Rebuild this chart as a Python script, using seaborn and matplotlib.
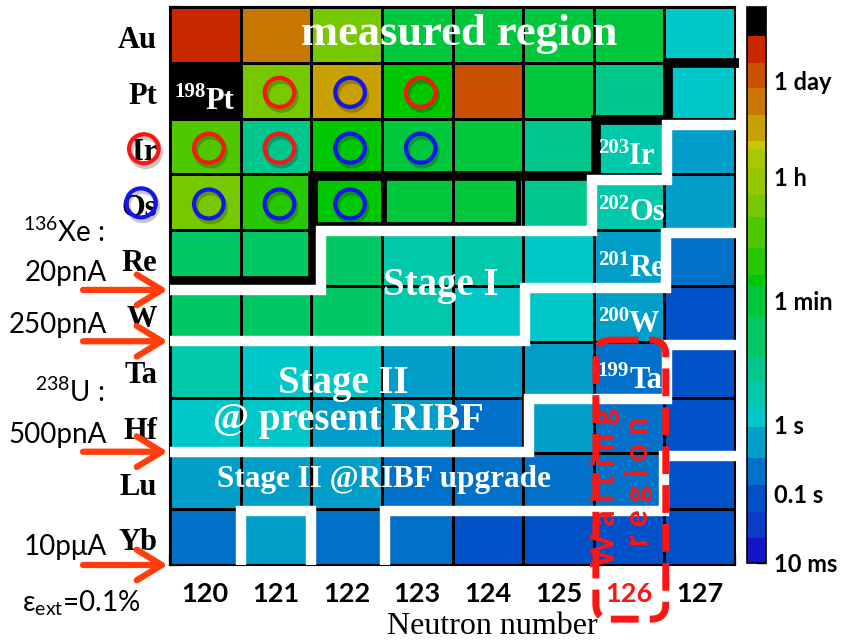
import matplotlib
matplotlib.use("Agg")
import numpy as np
import pandas as pd
import seaborn as sns
import matplotlib.pyplot as plt
from matplotlib.colors import ListedColormap, BoundaryNorm
from matplotlib.patches import Ellipse, FancyBboxPatch
from matplotlib.ticker import FixedLocator
from matplotlib.transforms import blended_transform_factory

sns.set_theme(style="white")
plt.rcParams["font.family"] = ["Lato", "DejaVu Sans"]
plt.rcParams["mathtext.fontset"] = "custom"
plt.rcParams["mathtext.rm"] = "Lato"
plt.rcParams["mathtext.it"] = "Lato:italic"
plt.rcParams["mathtext.bf"] = "Lato:bold"

# ---------------------------------------------------------------- data
neutrons = [120, 121, 122, 123, 124, 125, 126, 127]
elements = ["Au", "Pt", "Ir", "Os", "Re", "W", "Ta", "Hf", "Lu", "Yb"]
protons = [79, 78, 77, 76, 75, 74, 73, 72, 71, 70]

# half-lives in seconds; stable nuclei are placed above the top of the scale
half_life_Au = [2.7e5, 4.0e4, 1.6e3, 60, 55, 40, 45, 1.2]
half_life_Pt = [1e7, 1.8e3, 2.0e4, 120, 1.0e5, 40, 6.0, 1.2]
half_life_Ir = [500, 6.0, 120, 45, 40, 6.0, 3.0, 0.5]
half_life_Os = [1.5e3, 170, 125, 50, 50, 6.0, 2.5, 0.5]
half_life_Re = [15, 15, 15, 3.0, 3.0, 1.2, 0.5, 0.2]
half_life_W = [15, 15, 15, 3.0, 1.2, 1.2, 0.5, 0.08]
half_life_Ta = [3.0, 1.2, 1.2, 0.5, 0.5, 0.5, 0.2, 0.08]
half_life_Hf = [1.2, 1.2, 0.5, 0.4, 0.2, 0.5, 0.2, 0.08]
half_life_Lu = [0.5, 0.5, 0.5, 0.2, 0.2, 0.2, 0.15, 0.08]
half_life_Yb = [0.2, 0.5, 0.2, 0.2, 0.08, 0.08, 0.08, 0.08]

# discrete palette: band edges in log10(seconds) and band colours
band_edges = [-2.0, -1.64, -1.26, -0.88, -0.49, -0.05, 0.25, 0.60, 0.96, 1.54,
              1.99, 2.14, 2.53, 2.98, 3.30, 3.68, 3.96, 4.07, 4.45, 4.83,
              5.19, 5.58, 6.0]
band_colors = ["#1414c8", "#0a3cc8", "#0050c8", "#0070c8", "#009ec8", "#00c8c8",
               "#00c8aa", "#00c88c", "#00c864", "#00c83c", "#00c800", "#28c800",
               "#50c800", "#78c800", "#96c800", "#aac800", "#c8c800", "#c8a000",
               "#c87800", "#c85000", "#c82800", "#000000"]

cbar_tick_seconds = [0.01, 0.1, 1, 60, 3600, 86400]
cbar_tick_labels = ["10 ms", "0.1 s", "1 s", "1 min", "1 h", "1 day"]

# nuclei marked with rings
red_marked = [("Pt", 121), ("Pt", 123), ("Ir", 120), ("Ir", 121)]
blue_marked = [("Pt", 122), ("Ir", 122), ("Ir", 123), ("Os", 120), ("Os", 121), ("Os", 122)]
# nuclei named inside their cell
named = [("Pt", 120), ("Ir", 126), ("Os", 126), ("Re", 126), ("W", 126), ("Ta", 126)]

# region boundaries, in (column edge, row edge) units
measured_edge = [(0, 4.91), (2.02, 4.91), (2.02, 3.03), (6.03, 3.03), (6.03, 2.03),
                 (7.05, 2.03), (7.05, 1.0), (8.05, 1.0)]
measured_inner = [[(2.02, 3.88), (4.93, 3.88), (4.93, 3.03)], [(3.03, 3.03), (3.03, 3.88)]]
reach_edges = [
    [(0, 5.07), (2.14, 5.07), (2.14, 4.02), (5.98, 4.02), (5.98, 3.1), (7.04, 3.1),
     (7.04, 2.11), (8.06, 2.11)],
    [(0, 5.99), (5.03, 5.99), (5.03, 5.04), (7.02, 5.04), (7.02, 4.05), (8.06, 4.05)],
    [(0, 7.97), (5.08, 7.97), (5.08, 7.03), (7.04, 7.03), (7.04, 6.06), (8.06, 6.06)],
    [(1.0, 10), (1.0, 9.03), (2.0, 9.03), (2.0, 10)],
    [(3.04, 10), (3.04, 9.03), (7.0, 9.03), (7.0, 8.05), (8.06, 8.05)],
]
beam_rows = [5.07, 5.99, 7.97, 10.0]

# ---------------------------------------------------------------- figure
W_PX, H_PX = 848, 643
fig = plt.figure(figsize=(W_PX / 100, H_PX / 100), dpi=100)
fig.patch.set_facecolor("white")
ax = fig.add_axes([170 / W_PX, 1 - 565 / H_PX, 565 / W_PX, 558 / H_PX])
cax = fig.add_axes([747 / W_PX, 1 - 563 / H_PX, 19 / W_PX, 556 / H_PX])

half_lives = [half_life_Au, half_life_Pt, half_life_Ir, half_life_Os, half_life_Re,
              half_life_W, half_life_Ta, half_life_Hf, half_life_Lu, half_life_Yb]
table = pd.DataFrame(np.log10(np.array(half_lives, dtype=float)),
                     index=elements, columns=neutrons)

cmap = ListedColormap(band_colors)
cmap.set_over("black")
norm = BoundaryNorm(band_edges, cmap.N)

sns.heatmap(table, ax=ax, cbar_ax=cax, cmap=cmap, norm=norm, linewidths=2,
            linecolor="black", xticklabels=False, yticklabels=False,
            cbar_kws={"spacing": "proportional"})

for s in ax.spines.values():
    s.set_visible(True)
    s.set_color("black")
    s.set_linewidth(1.5)

# ROOT-like inward ticks
ax.set_xticks(np.arange(0, 8.01, 1.0))
ax.xaxis.set_minor_locator(FixedLocator(np.arange(0, 8.01, 0.2)))
ax.set_yticks(np.arange(0, 10.01, 1.0))
ax.yaxis.set_minor_locator(FixedLocator(np.arange(0, 10.01, 0.2)))
ax.tick_params(axis="both", which="major", direction="in", length=8, width=1.6,
               bottom=True, left=True, top=False, right=False,
               labelbottom=False, labelleft=False, color="black")
ax.tick_params(axis="both", which="minor", direction="in", length=4.5, width=1.3,
               bottom=True, left=True, top=False, right=False, color="black")

# colour bar
cb = ax.collections[0].colorbar
cb.outline.set_linewidth(1.2)
cb.outline.set_edgecolor("black")
cb.set_ticks(np.log10(cbar_tick_seconds))
cb.set_ticklabels(cbar_tick_labels)
minor_cb = [np.log10(k * 10.0 ** n) for n in range(-2, 6) for k in range(2, 10)]
cax.yaxis.set_minor_locator(FixedLocator([m for m in minor_cb if m < 6]))
cax.tick_params(axis="y", which="major", direction="in", length=7, width=1.0,
                right=True, left=False, labelright=True, labelleft=False, pad=6,
                labelsize=17, color="black")
cax.tick_params(axis="y", which="minor", direction="in", length=4, width=0.8,
                right=True, left=False, color="black")
for t in cax.get_yticklabels():
    t.set_fontweight("bold")
    t.set_color("black")

trans_x = blended_transform_factory(ax.transData, ax.transAxes)
trans_y = blended_transform_factory(ax.transAxes, ax.transData)
serif = "Liberation Serif"
red = "#ff1414"
blue = "#1414f0"

# axis labels
for i, n in enumerate(neutrons):
    ax.text(i + 0.5, -0.066, str(n), transform=trans_x, ha="center", va="baseline",
            fontsize=19.5, fontweight="bold", color=red if n == 126 else "black",
            clip_on=False)
for j, el in enumerate(elements):
    ax.text(-0.023, j + 0.74, el, transform=trans_y, ha="right", va="baseline",
            fontsize=22, fontweight="bold", family=serif, color="black", clip_on=False)
fig.text(492 / W_PX, 1 - 634 / H_PX, "Neutron number", ha="center", va="baseline",
         family=serif, fontsize=23, color="black")

# region boundaries
ax.plot(*zip(*measured_edge), color="black", lw=7, solid_joinstyle="miter",
        solid_capstyle="butt", zorder=4, clip_on=False)
for seg in measured_inner:
    ax.plot(*zip(*seg), color="black", lw=3.5, solid_joinstyle="miter",
            solid_capstyle="butt", zorder=4)
for seg in reach_edges:
    ax.plot(*zip(*seg), color="white", lw=7.5, solid_joinstyle="miter",
            solid_capstyle="butt", zorder=5, clip_on=False)


def ring(x, y, color, clip=True):
    rx, ry = 2 * 14.8 / 70.625, 2 * 14.5 / 55.8
    sh = Ellipse((x + 0.025, y + 0.06), rx, ry, fill=False, ec=(0, 0, 0, 0.22),
                 lw=3.6, zorder=6, clip_on=clip)
    rg = Ellipse((x, y), rx, ry, fill=False, ec=color, lw=3.0, zorder=7, clip_on=clip)
    ax.add_patch(sh)
    ax.add_patch(rg)


for el, n in red_marked:
    ring(neutrons.index(n) + 0.55, elements.index(el) + 0.53, red)
for el, n in blue_marked:
    ring(neutrons.index(n) + 0.55, elements.index(el) + 0.53, blue)
ring(-0.37, elements.index("Ir") + 0.54, red, clip=False)
ring(-0.41, elements.index("Os") + 0.51, blue, clip=False)

# nuclide names inside cells
for el, n in named:
    c, r = neutrons.index(n), elements.index(el)
    mass = protons[r] + n
    ax.annotate(str(mass), xy=(c + 0.5, r + 0.82), xytext=(0, 8), textcoords="offset points",
                ha="right", va="baseline", fontsize=15, fontweight="bold", family=serif,
                color="white", zorder=8)
    ax.annotate(el, xy=(c + 0.5, r + 0.82), xytext=(0, 0), textcoords="offset points",
                ha="left", va="baseline", fontsize=22, fontweight="bold", family=serif,
                color="white", zorder=8)

# region names
region_text = [("measured region", 4.09, 0.68, 32), ("Stage I", 3.83, 5.16, 28),
               ("Stage II", 2.46, 6.92, 28), ("@ present RIBF", 2.53, 7.58, 28),
               ("Stage II @RIBF upgrade", 3.03, 8.6, 22.5)]
for s, x, y, fs in region_text:
    ax.text(x, y, s, ha="center", va="baseline", fontsize=fs, fontweight="bold",
            family=serif, color="white", zorder=8)

# waiting-point box
box = FancyBboxPatch((6.03, 5.97), 0.99, 5.0, boxstyle="round,pad=0,rounding_size=0.21",
                     mutation_aspect=70.625 / 55.8, fill=False, ec=red, lw=5,
                     ls=(0, (4, 1.6)), zorder=9, clip_on=False)
ax.add_patch(box)
ax.text(6.17, 8.6, "W a i t i n g", rotation=90, ha="center", va="center",
        fontsize=23, fontweight="bold", color=red, zorder=9)
ax.text(6.63, 8.5, "r e g i o n", rotation=90, ha="center", va="center",
        fontsize=23, fontweight="bold", color=red, zorder=9)

# beam intensities
arrow_color = "#ff3d0d"
for yv in beam_rows:
    ax.annotate("", xy=(-0.004, yv), xycoords=("axes fraction", "data"),
                xytext=(-0.154, yv), textcoords=("axes fraction", "data"),
                arrowprops=dict(arrowstyle="->,head_length=0.9,head_width=0.55",
                                mutation_scale=20, color=arrow_color, lw=4.5,
                                shrinkA=0, shrinkB=0), annotation_clip=False)

left_labels = [(r"$^{136}$Xe :", 105, 242, "right"), ("20pnA", 107, 281, "right"),
               ("250pnA", 107, 333, "right"), (r"$^{238}$U :", 105, 402, "right"),
               ("500pnA", 107, 443, "right"), ("10p\u03bcA", 107, 555, "right"),
               ("\u03b5$_{\\mathrm{ext}}$=0.1%", 22, 612, "left")]
for s, x, y, ha in left_labels:
    fig.text(x / W_PX, 1 - y / H_PX, s, ha=ha, va="baseline", fontsize=20, color="black")

fig.savefig("out.png", dpi=100, facecolor="white")
